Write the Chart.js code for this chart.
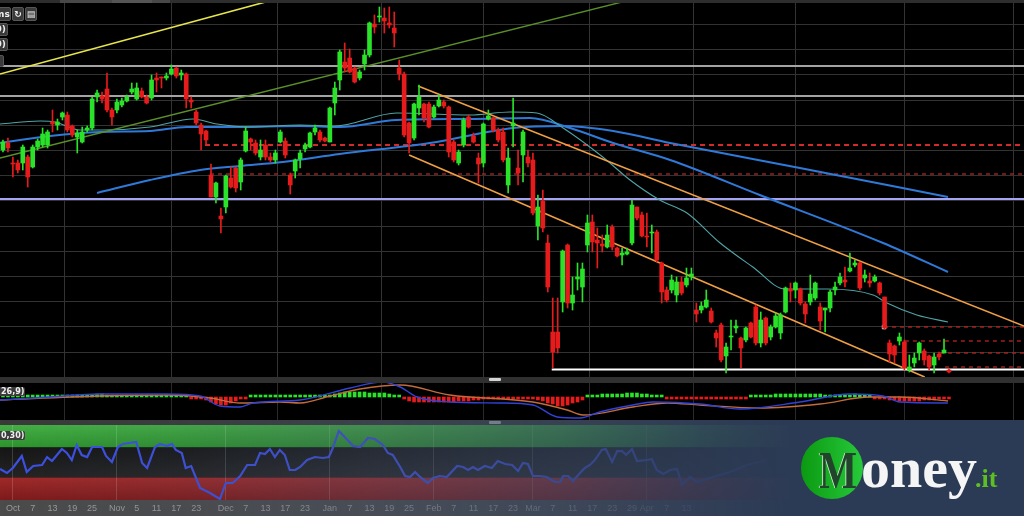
<!DOCTYPE html>
<html><head><meta charset="utf-8">
<script src="https://cdn.jsdelivr.net/npm/chart.js@4.4.1/dist/chart.umd.min.js"></script>
<style>
html,body{margin:0;padding:0;background:#000;}
#wrap{position:relative;width:1024px;height:516px;overflow:hidden;background:#000;font-family:"Liberation Sans","DejaVu Sans",sans-serif;}
canvas{position:absolute;left:0;display:block;}
.sep{position:absolute;left:0;width:1024px;background:#303030;}
.handle{position:absolute;left:489px;width:12px;height:3px;background:#d4d4d4;border-radius:1px;}
.btn{position:absolute;background:#3a3a3a;border:1px solid #575757;border-radius:2px;color:#eee;font:bold 9px "DejaVu Sans",sans-serif;text-align:right;overflow:hidden;box-sizing:border-box;padding-right:1px;}
.lbl{position:absolute;left:0;background:#3c3c3c;color:#f0f0f0;font:bold 8px "DejaVu Sans",sans-serif;line-height:9px;padding:0 1px;border-radius:0 2px 2px 0;}
</style></head>
<body><div id="wrap">
<canvas id="main" width="1024" height="377" style="top:0"></canvas>
<div class="sep" style="top:377px;height:6px"><div class="handle" style="top:1px"></div></div>
<canvas id="macd" width="1024" height="37" style="top:383px"></canvas>
<div class="sep" style="top:420px;height:5px;background:#3a3a3a"><div class="handle" style="top:1px;background:#b8b8b8"></div></div>
<canvas id="rsi" width="1024" height="91" style="top:425px"></canvas>

<div style="position:absolute;left:0;top:0;width:1024px;height:3px;background:#2e2e2e"></div>
<div style="position:absolute;left:60px;top:0;width:110px;height:3px;background:#484848"></div>
<div style="position:absolute;left:112px;top:0;width:40px;height:3px;background:#555"></div>
<div class="btn" style="left:-6px;top:7px;width:17px;height:14px;line-height:12px">ms</div>
<div class="btn" style="left:12px;top:7px;width:12px;height:14px;line-height:12px;text-align:center;padding:0">↻</div>
<div class="btn" style="left:25px;top:7px;width:12px;height:14px;line-height:12px;text-align:center;padding:0">▤</div>
<div class="btn" style="left:-8px;top:23px;width:16px;height:13px;line-height:11px">0)</div>
<div class="btn" style="left:-8px;top:38px;width:16px;height:13px;line-height:11px">0)</div>
<div class="btn" style="left:-4px;top:55px;width:8px;height:12px"></div>
<div class="lbl" style="top:387px">26,9)</div>
<div class="lbl" style="top:431px">0,30)</div>

<div id="overlay" style="position:absolute;left:0;top:420px;width:1024px;height:96px;background:linear-gradient(90deg, rgba(68,82,108,0) 0px, rgba(68,82,108,0.12) 180px, rgba(66,80,106,0.38) 380px, rgba(55,70,97,0.62) 560px, rgba(46,61,88,0.88) 700px, rgba(44,59,85,1) 790px);"></div>
<div style="position:absolute;left:801px;top:437px;width:62px;height:62px;border-radius:50%;background:linear-gradient(90deg,#0b9a12,#27c93b);"></div>
<div style="position:absolute;left:819px;top:444px;font:bold 53px 'Liberation Serif';line-height:53px;color:#21452a;transform:scaleX(0.76);transform-origin:left top;text-shadow:-1px 0 0 #dff2df;">M</div>
<div style="position:absolute;left:861px;top:439px;font:bold 58px 'Liberation Serif';line-height:58px;color:#f5f5f5;">oney</div>
<div style="position:absolute;left:975px;top:466px;font:bold 26px 'Liberation Serif';line-height:26px;color:#5cbf22;">.it</div>
</div>
<script>
// ---------- DATA (price units; hidden axis) ----------
const open = [85.0,85.7,83.7,83.7,83.7,84.3,83.3,85.3,85.5,85.5,
87.8,87.5,88.3,88.5,87.4,86.3,85.8,87.0,87.2,90.3,
90.4,91.1,89.0,89.0,89.5,89.9,90.8,90.1,90.9,90.3,
90.2,92.2,92.3,92.2,92.6,93.2,92.5,92.6,90.0,88.8,
87.5,86.9,82.5,80.3,78.4,79.3,82.2,83.2,81.8,84.9,
86.1,85.7,84.3,85.5,84.3,84.0,85.8,85.9,82.5,82.9,
84.1,85.1,85.3,86.8,86.8,86.2,85.8,89.7,92.0,93.8,
94.2,93.2,92.2,93.6,94.5,97.6,98.3,98.2,97.7,97.2,
93.2,92.6,87.7,86.2,89.2,89.6,89.6,88.3,89.4,89.8,
89.3,85.8,83.7,85.5,88.3,86.4,84.2,83.7,88.1,88.2,
87.0,86.8,81.5,87.4,83.2,84.5,84.3,84.0,77.4,79.9,
75.7,66.8,66.8,69.8,75.5,69.7,72.1,71.3,75.5,77.8,
76.0,75.6,75.3,77.3,75.2,74.5,74.6,75.7,79.3,78.5,
76.4,76.7,76.8,73.7,71.0,71.0,70.5,71.8,71.5,72.3,
69.0,69.0,69.3,68.9,66.7,67.5,64.4,66.3,67.2,66.2,
66.0,67.7,69.3,65.7,68.2,66.3,67.3,66.7,68.8,71.1,
71.0,71.1,69.6,69.8,70.2,69.3,69.0,69.2,71.0,71.7,
72.0,72.9,73.5,73.7,72.2,71.9,71.9,71.7,70.3,65.7,
65.4,65.9,65.8,63.0,63.7,64.7,64.9,64.4,63.5,64.6,
64.7,63.0];
const high = [86.0,86.2,84.3,84.0,85.5,84.5,85.5,86.1,87.2,87.0,
89.0,88.1,88.8,88.8,87.5,87.0,87.3,87.4,90.3,91.0,
90.8,92.7,89.2,90.1,90.2,90.5,91.7,91.7,91.2,90.5,
92.5,92.7,92.3,92.7,93.5,93.3,93.0,92.7,90.3,89.0,
87.7,87.0,83.6,81.8,79.2,82.5,83.3,83.3,84.2,87.3,
86.2,86.0,86.0,86.0,84.7,85.0,87.0,86.2,82.7,84.1,
85.0,85.7,86.8,87.5,87.0,86.3,89.3,91.8,95.0,95.7,
95.1,93.3,93.0,95.0,97.8,98.5,99.3,99.2,99.3,98.8,
94.0,92.8,87.8,89.7,91.5,89.7,89.8,89.5,90.5,90.0,
89.4,86.0,85.0,88.2,88.5,86.7,84.7,87.7,89.0,88.3,
87.2,87.2,85.2,90.2,85.0,87.0,85.0,84.7,80.5,81.0,
76.5,70.2,70.2,75.0,75.6,72.3,73.7,73.7,78.5,78.5,
77.2,76.5,77.5,77.5,75.3,75.2,75.2,80.0,79.3,78.8,
78.7,77.5,77.0,73.8,71.3,72.5,72.3,72.3,73.2,73.2,
69.7,69.8,71.0,69.2,67.0,67.7,65.7,68.0,68.0,66.3,
67.3,67.8,69.5,68.8,68.3,67.5,68.7,68.7,71.3,71.7,
71.8,71.2,69.8,72.5,71.8,69.7,69.2,71.0,71.8,72.7,
73.3,74.7,74.0,73.8,73.0,72.7,72.5,71.8,70.3,66.0,
65.5,66.7,66.0,64.5,64.7,65.8,65.1,64.5,64.7,64.8,
66.1,63.1];
const low = [84.8,84.8,82.3,82.7,83.0,81.3,83.2,85.0,85.3,85.2,
86.8,87.0,88.0,86.8,86.3,84.7,85.7,86.8,87.0,89.8,
89.7,88.8,87.5,88.7,89.3,89.8,90.6,90.0,90.2,89.6,
90.0,90.8,91.2,92.0,92.5,92.2,92.0,89.2,89.2,87.5,
85.0,85.5,80.3,79.7,76.7,78.7,81.2,80.8,81.0,84.8,
85.0,84.5,84.0,84.0,83.8,83.7,85.7,84.2,80.6,82.2,
83.2,84.8,85.2,86.5,85.8,85.8,85.8,88.5,91.0,92.8,
92.7,91.7,92.0,93.0,94.3,96.7,97.8,96.7,97.2,95.3,
92.0,86.3,84.7,86.0,88.5,87.8,87.2,88.2,89.3,89.2,
84.3,83.8,83.5,85.3,87.2,85.7,81.7,83.3,88.0,86.8,
85.8,83.8,80.7,85.3,81.5,81.8,83.3,78.5,76.0,76.8,
70.8,63.2,64.7,68.8,69.2,69.0,71.0,69.8,74.8,74.8,
73.2,74.8,75.2,75.0,74.3,73.5,74.5,75.5,78.0,76.3,
75.3,74.7,73.8,69.7,69.8,70.7,69.8,70.5,71.3,72.0,
67.8,68.7,69.2,67.7,65.3,63.8,62.7,65.0,66.7,63.2,
65.8,66.2,65.5,65.3,65.5,66.0,67.2,66.1,68.7,69.8,
70.2,69.5,67.7,69.5,70.0,67.0,66.8,68.8,70.5,71.5,
71.3,72.8,73.3,71.0,71.8,71.3,71.8,70.5,67.1,63.8,
63.7,65.5,63.0,62.8,63.3,64.0,63.5,63.0,62.7,64.0,
64.7,62.7];
const close = [85.8,85.2,83.6,83.0,85.3,82.3,85.3,85.9,86.6,86.8,
87.6,87.8,88.7,87.0,86.5,86.7,86.8,87.2,90.1,90.7,
90.1,89.0,88.3,89.8,89.9,90.3,91.1,91.2,90.3,89.7,
92.0,92.0,92.2,92.4,93.1,92.4,92.7,90.1,89.8,87.7,
86.6,86.0,80.3,81.7,78.1,82.4,81.3,81.2,84.0,86.9,
85.8,84.7,85.0,84.3,84.0,84.7,86.8,84.5,81.5,84.0,
84.7,85.5,86.7,87.2,86.0,85.9,89.2,91.2,94.8,93.2,
92.8,91.8,92.8,94.5,97.7,97.3,98.4,97.9,97.5,96.7,
92.6,86.5,85.7,89.6,90.3,88.2,87.3,89.3,90.0,89.4,
84.8,84.0,84.8,88.0,87.3,85.8,83.6,87.6,88.4,87.0,
86.0,84.0,84.2,87.7,82.7,86.8,83.7,78.7,79.3,77.2,
71.3,64.8,65.2,74.9,69.7,70.5,72.3,73.1,77.7,75.8,
75.7,75.4,76.5,75.3,74.4,74.7,74.8,79.5,78.2,76.4,
76.3,76.8,74.0,70.8,70.0,72.0,71.8,70.7,72.2,72.6,
68.6,69.4,70.0,67.8,66.2,64.0,65.3,66.4,67.4,65.2,
67.2,66.3,65.7,68.0,65.7,67.3,68.4,68.5,71.2,70.9,
71.7,69.7,68.6,70.6,71.7,67.9,69.2,70.8,71.3,72.3,
71.8,73.2,73.7,71.2,72.5,71.7,72.3,70.7,67.2,64.6,
64.5,66.3,63.2,63.3,64.2,65.7,64.0,63.3,64.3,64.3,
65.0,62.8];

// moving averages: [candle index, price]
const maFast = [[-0.6,87.6],[7.5,87.9],[10.5,87.8],[15.5,87.0],[20.2,87.0],[29.7,87.3],[38.4,88.1],[43.2,87.6],[49.9,87.3],[60.0,87.5],[67.0,87.4],[79.5,88.7],[94.3,88.5],[102.4,88.8],[107.8,88.7],[113.1,87.2],[121.1,84.3],[126.6,82.0],[132.6,80.0],[138.1,78.7],[144.8,75.7],[151.4,73.3],[157.9,71.1],[166.4,71.1],[175.7,70.5],[178.5,69.7],[184.5,68.5],[190.8,67.8]];
const maMid = [[-0.6,85.7],[9.5,86.4],[19.6,86.8],[29.7,86.9],[37.1,87.3],[46.4,87.3],[60.0,87.4],[68.0,87.3],[79.5,88.0],[94.3,88.1],[106.4,88.2],[114.5,87.2],[123.2,85.7],[134.7,84.0],[152.8,80.5],[177.7,75.7],[190.8,72.8]];
const maSlow = [[19.0,80.7],[29.7,82.0],[39.8,83.0],[47.9,83.4],[56.5,83.8],[68.0,84.6],[86.2,85.7],[103.0,87.2],[113.1,87.4],[123.2,86.9],[134.7,85.7],[160.9,83.2],[190.8,80.3]];

// drawn trend lines / levels
const trendYellow = [[-0.6,92.6],[60,100.74]];
const trendGreen = [[-0.6,84.2],[128.6,100.25]];
const channelUpper = [[83.8,91.4],[206.15,67.4]];
const channelLower = [[82.0,84.5],[186.1,62.3]];
const grayLevels = [93.4, 90.4];
const lavenderLevel = 80.1;
const supportLevel = {from:110.8, price:63.05};
const redDashedBig = [{from:40.8, price:85.5},{from:41.8, price:82.6}];
const redDashedSmall = [{from:177.9, price:67.3},{from:182.1, price:65.9},{from:189.2, price:64.7},{from:190.2, price:63.3}];

// MACD panel
const macdHist = [0.1,0.1,0.1,
0.1,0.1,0.1,0.1,0.2,0.1,0.1,0.1,0.1,0.1,0.1,0.1,0.1,0.1,0.2,0.2,
0.3,0.3,0.2,
0.1,0.1,0.2,0.1,0.1,0.1,0.1,0.1,0.1,0.1,0.1,0.1,0.1,0.1,0.1,0.1,
-0.1,-0.2,-0.2,-0.3,-0.5,-0.7,-0.8,-0.8,-0.6,-0.4,-0.2,-0.1,
0.1,0.1,0.1,0.2,0.2,0.1,0.1,0.1,0.1,0.1,0.1,0.1,0.1,0.2,0.2,0.2,0.2,
0.3,0.4,0.5,0.5,0.5,0.5,0.5,0.4,0.4,0.4,0.4,0.3,0.2,0.1,
-0.2,-0.4,-0.5,-0.5,-0.5,-0.5,-0.5,-0.5,-0.5,-0.5,-0.5,-0.4,-0.4,-0.4,-0.3,-0.3,-0.2,
-0.1,-0.1,-0.1,-0.1,-0.1,-0.1,-0.1,-0.1,-0.1,
-0.2,-0.3,-0.4,-0.6,-0.7,-0.9,-0.9,-0.8,-0.6,-0.5,-0.3,
0.1,0.2,0.2,0.3,0.3,0.3,0.3,0.3,0.4,0.4,0.4,0.3,0.3,0.2,0.2,0.1,
-0.1,-0.1,-0.1,-0.1,-0.1,-0.1,-0.1,-0.2,-0.2,-0.2,-0.2,-0.2,-0.2,-0.1,-0.1,-0.1,-0.1,
0.1,0.1,0.2,0.2,0.2,0.3,0.3,0.3,0.3,0.3,0.3,0.3,0.3,0.3,0.3,0.2,0.2,0.2,0.2,0.2,0.2,0.3,0.2,0.2,0.1,
-0.1,-0.1,-0.2,-0.3,-0.3,-0.4,-0.4,-0.4,-0.4,-0.4,-0.3,-0.3,-0.3,-0.2,-0.2,-0.2];
const macdLine = [[-0.6,-0.3],[9.5,0.0],[19.6,0.3],[33.1,0.3],[39.8,0.1],[43.8,-0.9],[47.9,-1.0],[50.5,-0.6],[60.0,-0.3],[70.1,0.9],[76.7,1.5],[80.2,1.0],[83.6,0.0],[90.2,-0.5],[100.3,-0.6],[107.0,-0.8],[111.9,-2.0],[116.5,-2.1],[120.5,-1.5],[127.2,-0.8],[131.2,-0.5],[140.7,-0.7],[148.8,-1.2],[160.9,-0.5],[171.0,0.3],[177.7,0.1],[181.1,-0.5],[190.8,-0.6]];
const macdSignal = [[-0.6,-0.3],[19.6,0.1],[33.7,0.2],[41.8,-0.1],[47.9,-0.6],[55.9,-0.5],[60.0,-0.6],[66.0,0.1],[72.1,0.8],[80.2,1.2],[90.2,0.2],[107.0,-0.5],[113.9,-1.3],[117.1,-1.8],[127.2,-1.0],[134.1,-0.6],[140.7,-0.8],[152.8,-1.1],[165.0,-0.7],[175.0,0.0],[181.1,0.0],[190.8,-0.4]];

// RSI panel
const rsiPts = [[-0.6,41.3],[0.8,36.0],[2.0,42.7],[3.8,58.7],[4.8,37.3],[6.1,45.3],[7.9,46.7],[8.9,57.3],[9.9,52.0],[11.9,68.0],[12.9,62.7],[13.9,53.3],[14.9,73.3],[15.9,60.0],[17.0,57.3],[18.0,70.7],[20.0,70.7],[20.8,58.7],[22.0,50.7],[23.2,70.7],[24.2,74.7],[26.9,77.3],[28.1,49.3],[29.1,42.7],[30.7,70.7],[31.7,74.7],[33.1,72.0],[34.1,74.7],[34.9,66.7],[36.1,62.7],[36.9,42.7],[38.0,45.3],[39.8,16.0],[41.8,9.3],[43.8,1.3],[45.0,22.7],[46.4,22.7],[47.9,32.0],[49.3,46.7],[50.9,46.7],[51.9,62.7],[52.9,61.3],[53.9,68.0],[54.9,57.3],[55.9,66.7],[56.9,60.0],[57.9,40.0],[59.0,40.0],[60.0,44.0],[61.4,53.3],[63.0,57.3],[64.6,56.0],[65.8,57.3],[66.6,69.3],[67.8,92.0],[69.0,84.0],[70.7,72.0],[72.1,70.7],[73.7,82.7],[75.1,81.3],[76.7,73.3],[77.7,62.7],[78.7,60.0],[80.2,44.0],[81.2,32.0],[82.2,30.7],[83.2,37.3],[84.2,30.7],[85.8,22.7],[86.8,29.3],[88.2,32.0],[89.6,30.7],[91.7,45.3],[92.9,44.0],[93.9,40.0],[94.9,44.0],[95.9,40.0],[97.3,45.3],[98.7,42.7],[99.9,52.0],[101.4,48.0],[102.8,46.7],[104.0,38.7],[105.0,49.3],[106.0,48.0],[107.0,32.0],[108.4,32.0],[109.8,30.7],[111.4,24.0],[112.5,24.0],[113.1,32.0],[114.1,32.0],[115.1,25.3],[116.5,36.0],[117.5,42.7],[118.5,46.7],[119.5,53.3],[120.9,66.7],[121.7,68.0],[123.0,50.7],[124.0,65.3],[125.0,65.3],[125.8,60.0],[127.0,68.0],[128.0,52.0],[130.0,53.3],[131.0,54.7],[132.0,40.0],[133.3,34.7],[134.7,40.0],[136.1,41.3],[137.1,20.0],[138.7,30.7],[140.1,24.0],[142.7,29.3],[146.8,37.3],[150.2,46.7],[154.2,53.3]];
const rsiUpper = 70, rsiLower = 30;

// axis ticks
const monthIdx = [2,23,45,66,87,107,130,149,171,193];
const xTickIdx = [2,6,10,14,18,23,27,31,35,39,45,49,53,57,61,66,70,74,78,82,87,91,95,99,103,107,111,115,119,123,127,130,134,138];
const xTickLabels = ['Oct','7','13','19','25','Nov','5','11','17','23','Dec','7','13','17','23','Jan','7','13','19','25','Feb','7','11','17','23','Mar','7','11','17','23','29','Apr','7','13'];
const priceGrid = [97.55,95.03,92.51,89.99,87.47,84.95,82.43,79.91,77.39,74.87,72.35,69.83,67.31,64.79];

// ---------- rendering ----------
const GREEN = '#29e229', RED = '#e61b1b';
const X_MIN = -0.6, X_MAX = 206.15;
const idx = open.map((_, i) => i);
const isUp = i => close[i] >= open[i];
const pts = arr => arr.map(p => ({x:p[0], y:p[1]}));
const hline = (from, price) => [{x:from, y:price}, {x:X_MAX + 2, y:price}];

function lineDS(data, color, width, extra) {
  return Object.assign({type:'line', data, borderColor:color, borderWidth:width, pointRadius:0, pointHoverRadius:0, fill:false, tension:0, order:5}, extra || {});
}
function xScale(gridColor) {
  return {type:'linear', min:X_MIN, max:X_MAX, offset:false, border:{display:false},
    grid:{color:gridColor, drawTicks:false, lineWidth:1}, ticks:{display:false},
    afterBuildTicks: s => { s.ticks = monthIdx.map(v => ({value:v})); },
    afterFit: s => { s.height = 0; }};
}
const baseOpts = {responsive:false, animation:false, devicePixelRatio:1,
  layout:{padding:0, autoPadding:false},
  plugins:{legend:{display:false}, tooltip:{enabled:false}}};

const mainDatasets = [
  {type:'bar', data: idx.map(i => ({x:i, y:[Math.min(open[i],close[i]), Math.max(open[i],close[i])]})),
   backgroundColor: idx.map(i => isUp(i) ? GREEN : RED), barThickness:4, grouped:false, minBarLength:1, order:1},
  {type:'bar', data: idx.map(i => ({x:i, y:[low[i], high[i]]})),
   backgroundColor: idx.map(i => isUp(i) ? GREEN : RED), barThickness:1, grouped:false, minBarLength:1, order:2},
  lineDS(hline(supportLevel.from, supportLevel.price), '#ffffff', 2.2, {order:3}),
  lineDS(pts(trendYellow), '#e6e64a', 1.6, {order:4}),
  lineDS(pts(trendGreen), '#5b8f2a', 1.4, {order:4}),
  lineDS(pts(channelUpper), '#f0a044', 1.6, {order:4}),
  lineDS(pts(channelLower), '#f0a044', 1.6, {order:4}),
  lineDS(pts(maFast), '#4fa4a6', 1.1, {cubicInterpolationMode:'monotone', order:5}),
  lineDS(pts(maMid), '#2f7ad8', 2, {cubicInterpolationMode:'monotone', order:5}),
  lineDS(pts(maSlow), '#2f7ad8', 2, {cubicInterpolationMode:'monotone', order:5}),
  ...grayLevels.map(p => lineDS(hline(X_MIN - 2, p), '#a4a4a4', 2, {order:7})),
  lineDS(hline(X_MIN - 2, lavenderLevel), '#a4a4f2', 2, {order:7}),
  lineDS(hline(redDashedBig[0].from, redDashedBig[0].price), '#d42a2a', 2, {borderDash:[5,4], order:7}),
  lineDS(hline(redDashedBig[1].from, redDashedBig[1].price), '#a82020', 1.4, {borderDash:[4,4], order:7}),
  ...redDashedSmall.map((d, k) => lineDS(hline(d.from, d.price), '#b82222', 1.3,
    {borderDash:[4,4], order:7, pointRadius: k === 0 ? [2.5, 0] : 0, pointStyle:'rect',
     pointBorderColor:'#ffffff', pointBackgroundColor:'rgba(0,0,0,0)', pointBorderWidth:1}))
];

new Chart(document.getElementById('main'), {
  type:'bar',
  data:{datasets: mainDatasets},
  options: Object.assign({}, baseOpts, {
    scales:{
      x: xScale('#333333'),
      y: {type:'linear', min:62.3, max:100, border:{display:false},
          grid:{color:'#333333', drawTicks:false}, ticks:{display:false},
          afterBuildTicks: s => { s.ticks = priceGrid.map(v => ({value:v})); },
          afterFit: s => { s.width = 0; }}
    }
  })
});

new Chart(document.getElementById('macd'), {
  type:'bar',
  data:{datasets:[
    {type:'bar', data: macdHist.map((v, i) => ({x:i, y:v})), backgroundColor: macdHist.map(v => v >= 0 ? GREEN : RED),
     barThickness:3, minBarLength:2, grouped:false, order:3},
    lineDS(pts(macdSignal), '#c26c3c', 1.3, {cubicInterpolationMode:'monotone', order:2}),
    lineDS(pts(macdLine), '#3142d6', 1.4, {cubicInterpolationMode:'monotone', order:1})
  ]},
  options: Object.assign({}, baseOpts, {
    scales:{ x: xScale('#2a2a2a'), y:{min:-2.3, max:1.4, display:false} }
  })
});

const rsiBands = {
  id:'rsiBands',
  beforeDraw(chart) {
    const {ctx, chartArea:a, scales:{y}} = chart;
    const yTop = y.getPixelForValue(100), yU = y.getPixelForValue(rsiUpper),
          yL = y.getPixelForValue(rsiLower), yBot = y.getPixelForValue(0);
    ctx.save();
    let g = ctx.createLinearGradient(0, yTop, 0, yU);
    g.addColorStop(0, '#44b044'); g.addColorStop(1, '#2d932d');
    ctx.fillStyle = g; ctx.fillRect(a.left, yTop, a.right - a.left, yU - yTop);
    g = ctx.createLinearGradient(0, yU, 0, yL);
    g.addColorStop(0, '#161616'); g.addColorStop(1, '#242424');
    ctx.fillStyle = g; ctx.fillRect(a.left, yU, a.right - a.left, yL - yU);
    g = ctx.createLinearGradient(0, yL, 0, yBot);
    g.addColorStop(0, '#a02a2a'); g.addColorStop(1, '#7e1a1a');
    ctx.fillStyle = g; ctx.fillRect(a.left, yL, a.right - a.left, yBot - yL);
    ctx.fillStyle = '#4b4b4b';
    ctx.fillRect(0, a.bottom, chart.width, chart.height - a.bottom);
    ctx.restore();
  }
};

new Chart(document.getElementById('rsi'), {
  type:'line',
  data:{datasets:[ lineDS(pts(rsiPts), '#3d50e4', 2.2) ]},
  options: Object.assign({}, baseOpts, {
    scales:{
      x:{type:'linear', min:X_MIN, max:X_MAX, offset:false, border:{display:false},
         grid:{drawTicks:false, color: c => (c.tick && monthIdx.includes(c.tick.value)) ? 'rgba(255,255,255,0.16)' : 'rgba(0,0,0,0)'},
         ticks:{color:'#9c9c9c', font:{family:'Liberation Sans', size:9}, padding:3, autoSkip:false, maxRotation:0, minRotation:0,
                callback:(v, k) => xTickLabels[k]},
         afterBuildTicks: s => { s.ticks = xTickIdx.map(v => ({value:v})); },
         afterFit: s => { s.height = 16; }},
      y:{min:0, max:100, display:false}
    }
  }),
  plugins:[rsiBands]
});
</script>
</body></html>
